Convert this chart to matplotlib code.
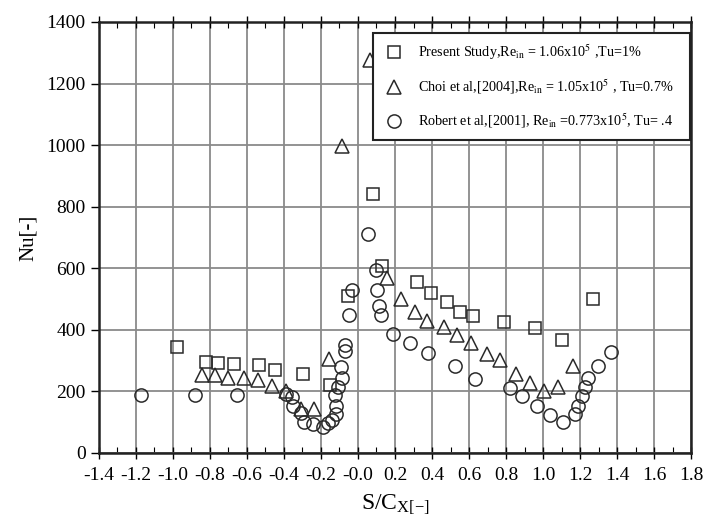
import matplotlib.pyplot as plt
import numpy as np
from matplotlib.ticker import MultipleLocator

plt.rcParams['font.family'] = ['Liberation Serif', 'DejaVu Serif']
plt.rcParams['mathtext.fontset'] = 'stix'

# Present Study
sq_x = [-0.98, -0.82, -0.757, -0.668, -0.537, -0.451, -0.295, -0.15, -0.052, 0.083,
        0.131, 0.321, 0.393, 0.481, 0.553, 0.622, 0.789, 0.956, 1.104, 1.268]
sq_y = [345, 295, 293, 288, 287, 271, 258, 220, 511, 841,
        608, 555, 520, 489, 457, 446, 426, 405, 367, 499]

# Choi et al. [2004]
tri_x = [-0.843, -0.775, -0.70, -0.616, -0.539, -0.465, -0.39, -0.309, -0.24, -0.158,
         -0.085, 0.065, 0.155, 0.232, 0.307, 0.375, 0.464, 0.537, 0.612, 0.699,
         0.769, 0.852, 0.927, 1.003, 1.08, 1.161]
tri_y = [253, 253, 242, 242, 236, 219, 200, 144, 144, 305,
         998, 1275, 570, 499, 457, 430, 408, 383, 356, 321,
         301, 256, 228, 202, 213, 282]

# Robert et al. [2001]
cir_x = [-1.17, -0.88, -0.656, -0.39, -0.355, -0.352, -0.31, -0.29, -0.245, -0.19,
         -0.16, -0.14, -0.12, -0.119, -0.124, -0.106, -0.088, -0.09, -0.068, -0.07,
         -0.05, -0.034, 0.052, 0.096, 0.104, 0.112, 0.124, 0.19, 0.28, 0.376,
         0.523, 0.632, 0.819, 0.884, 0.967, 1.04, 1.107, 1.17, 1.191, 1.209,
         1.224, 1.242, 1.298, 1.369]
cir_y = [188, 188, 188, 191, 181, 152, 130, 101, 94, 85,
         97, 107, 128, 152, 188, 213, 243, 279, 330, 350,
         449, 531, 710, 596, 531, 476, 449, 387, 358, 325,
         284, 241, 211, 185, 153, 125, 101, 126, 153, 185,
         215, 242, 284, 327]

labels = [r"Present Study,Re$_{\mathrm{in}}$ = 1.06x10$^{5}$ ,Tu=1%",
          r"Choi et al,[2004],Re$_{\mathrm{in}}$ = 1.05x10$^{5}$ , Tu=0.7%",
          r"Robert et al,[2001], Re$_{\mathrm{in}}$ =0.773x10$^{5}$, Tu= .4"]

xticks = np.round(np.arange(-1.4, 1.81, 0.2), 1)

fig = plt.figure(figsize=(7.06, 5.30), dpi=100)
ax = fig.add_axes([0.140, 0.1453, 0.839, 0.8132])

mk = dict(linestyle='none', markerfacecolor='none', markeredgecolor='#2a2a2a', markeredgewidth=1.1)
ax.plot(sq_x, sq_y, marker='s', markersize=8.5, label=labels[0], **mk)
ax.plot(tri_x, tri_y, marker='^', markersize=9.5, label=labels[1], **mk)
ax.plot(cir_x, cir_y, marker='o', markersize=9.5, label=labels[2], **mk)

ax.set_xlim(-1.4, 1.8)
ax.set_ylim(0, 1400)
ax.set_xticks(xticks)
ax.set_xticklabels([f"{v:.1f}" for v in xticks])
ax.xaxis.set_minor_locator(MultipleLocator(0.1))
ax.yaxis.set_major_locator(MultipleLocator(200))
ax.grid(True, which='major', color='#8a8a8a', linewidth=1.3)
ax.set_axisbelow(True)

for s in ax.spines.values():
    s.set_linewidth(1.8)
    s.set_color('#222222')

ax.tick_params(axis='x', which='major', direction='inout', length=8, width=1, labelsize=14, pad=6, top=True)
ax.tick_params(axis='x', which='minor', direction='in', length=4, width=0.8, top=True)
ax.tick_params(axis='y', which='major', direction='out', length=6, width=1, labelsize=14)

ax.set_xlabel(r"S/C$_{\mathregular{X[-]}}$", fontsize=17, labelpad=6)
ax.set_ylabel("Nu[-]", fontsize=15, labelpad=6)

leg = ax.legend(loc='upper left', bbox_to_anchor=(0.463, 0.975, 0.535, 0.0), mode='expand',
                borderaxespad=0, fontsize=10.2, frameon=True, fancybox=False, framealpha=1,
                labelspacing=1.1, handletextpad=1.0, borderpad=0.7, handlelength=1.5)
leg.get_frame().set_edgecolor('#222222')
leg.get_frame().set_linewidth(1.5)

fig.savefig("out.png", dpi=100)
